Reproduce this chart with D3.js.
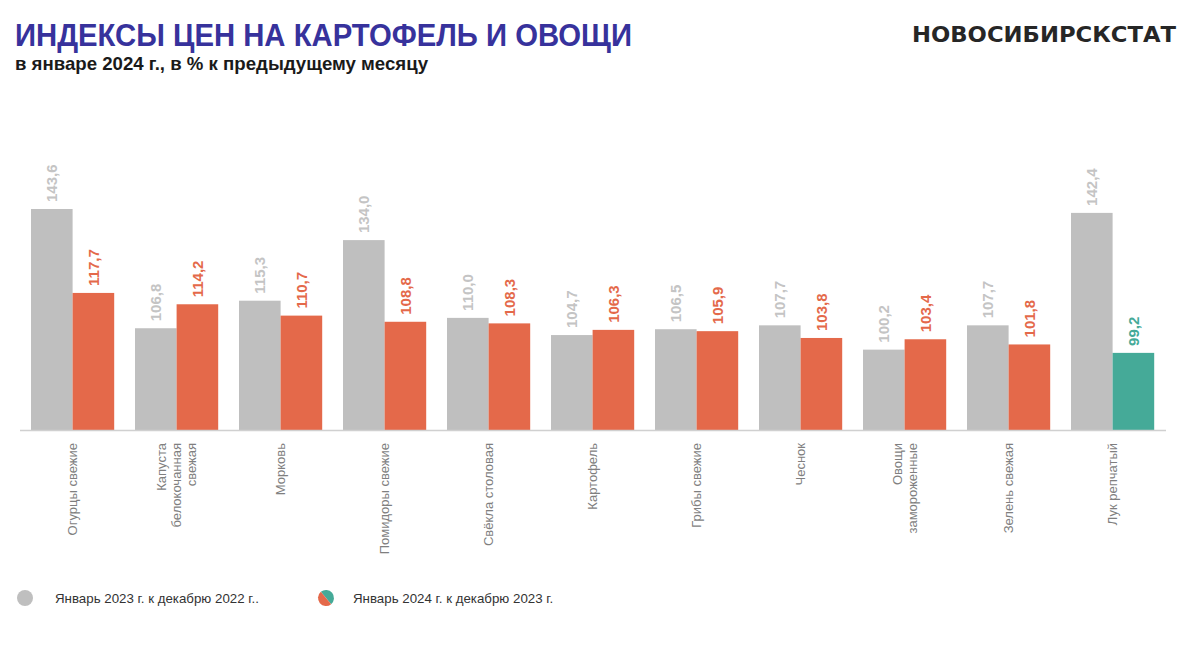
<!DOCTYPE html>
<html><head><meta charset="utf-8">
<script src="https://cdn.jsdelivr.net/npm/d3@7"></script>
<style>body{margin:0;background:#fff;}svg{display:block;}</style>
</head><body>
<script>
const categories = ["Огурцы свежие","Капуста\nбелокочанная\nсвежая","Морковь","Помидоры свежие","Свёкла столовая","Картофель","Грибы свежие","Чеснок","Овощи\nзамороженные","Зелень свежая","Лук репчатый"];
const values2023 = [143.6,106.8,115.3,134.0,110.0,104.7,106.5,107.7,100.2,107.7,142.4];
const values2024 = [117.7,114.2,110.7,108.8,108.3,106.3,105.9,103.8,103.4,101.8,99.2];
const seriesNames = ["Январь 2023 г. к декабрю 2022 г..","Январь 2024 г. к декабрю 2023 г."];
const title = "ИНДЕКСЫ ЦЕН НА КАРТОФЕЛЬ И ОВОЩИ";
const subtitle = "в январе 2024 г., в % к предыдущему месяцу";
const brand = "НОВОСИБИРСКСТАТ";

const W=1184,H=645;
const GRAY="#bfbfbf", GRAYTXT="#c4c4c4", ORANGE="#e4694a", TEAL="#45aa98";
const svg=d3.select("body").append("svg").attr("width",W).attr("height",H);
const font="'Liberation Sans', Arial, sans-serif";

svg.append("text").attr("x",15).attr("y",46).text(title)
  .attr("font-family",font).attr("font-weight","bold").attr("font-size",31)
  .attr("fill","#37329c").attr("textLength",617).attr("lengthAdjust","spacingAndGlyphs");
svg.append("text").attr("x",15).attr("y",70).text(subtitle)
  .attr("font-family",font).attr("font-weight","bold").attr("font-size",19)
  .attr("fill","#1a1a1a").attr("textLength",413).attr("lengthAdjust","spacingAndGlyphs");
svg.append("text").attr("x",912).attr("y",42).text(brand)
  .attr("font-family","'DejaVu Sans', sans-serif").attr("font-weight","bold").attr("font-size",21)
  .attr("fill","#262626").attr("textLength",264).attr("lengthAdjust","spacingAndGlyphs");

const x0=d3.scaleBand().domain(categories).range([20.6,1164.6]).paddingInner(0.2).paddingOuter(0.1);
const x1=d3.scaleBand().domain([0,1]).range([0,x0.bandwidth()]);
const y=d3.scaleLinear().domain([75.4,143.6]).range([430,209]);

const g=svg.append("g");
categories.forEach((c,i)=>{
  const gx=x0(c);
  const vals=[values2023[i],values2024[i]];
  vals.forEach((v,k)=>{
    const fill = k===0?GRAY:(v<100?TEAL:ORANGE);
    const tcol = k===0?GRAYTXT:(v<100?TEAL:ORANGE);
    const bx=gx+x1(k);
    g.append("rect").attr("x",bx).attr("y",y(v)).attr("width",x1.bandwidth()).attr("height",y.range()[0]-y(v)).attr("fill",fill);
    const cx=bx+x1.bandwidth()/2, cy=y(v)-7;
    g.append("text").attr("transform",`translate(${cx+5.5},${cy}) rotate(-90)`)
      .attr("text-anchor","start").attr("font-family",font).attr("font-weight","bold").attr("font-size",15)
      .attr("fill",tcol).text(d3.format(".1f")(v).replace(".",","));
  });
  const lines=c.split("\n");
  const cxm=gx+x0.bandwidth()/2;
  const lh=15;
  lines.forEach((ln,j)=>{
    const lx=cxm+(j-(lines.length-1)/2)*lh+4.5;
    g.append("text").attr("transform",`translate(${lx},443) rotate(-90)`)
      .attr("text-anchor","end").attr("font-family",font).attr("font-size",13)
      .attr("fill","#7f7f7f").text(ln);
  });
});
svg.append("line").attr("x1",20).attr("x2",1166).attr("y1",430.5).attr("y2",430.5).attr("stroke","#d0d0d0").attr("stroke-width",1.5);

// legend
const lg=svg.append("g");
lg.append("circle").attr("cx",25).attr("cy",598).attr("r",8).attr("fill",GRAY);
lg.append("text").attr("x",55).attr("y",603).text(seriesNames[0]).attr("font-family",font).attr("font-size",13.3).attr("fill","#333");
const cx2=326, cy2=598, r=8;
const a1=-130*Math.PI/180;
const p1=[cx2+r*Math.cos(a1),cy2+r*Math.sin(a1)], p2=[cx2-r*Math.cos(a1),cy2-r*Math.sin(a1)];
lg.append("path").attr("d",`M${p1[0]},${p1[1]} A${r},${r} 0 0,1 ${p2[0]},${p2[1]} Z`).attr("fill",TEAL);
lg.append("path").attr("d",`M${p2[0]},${p2[1]} A${r},${r} 0 0,1 ${p1[0]},${p1[1]} Z`).attr("fill",ORANGE);
lg.append("text").attr("x",353).attr("y",603).text(seriesNames[1]).attr("font-family",font).attr("font-size",13.3).attr("fill","#333");
</script>
</body></html>
